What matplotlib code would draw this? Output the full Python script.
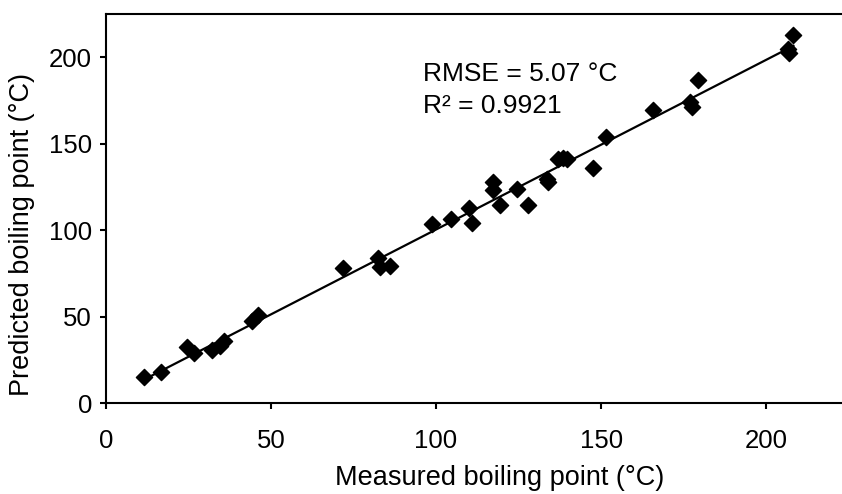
import numpy as np
import matplotlib
matplotlib.use("Agg")
import matplotlib.pyplot as plt

measured = [11.5, 16.6, 24.6, 26.7, 32.0, 34.5, 35.8, 44.1, 46.2, 71.7,
            82.5, 83.0, 85.9, 98.7, 104.4, 110.1, 110.8, 117.2, 117.4, 119.4,
            124.6, 127.8, 133.5, 134.0, 136.8, 138.5, 139.6, 147.7, 151.5,
            165.7, 176.8, 177.5, 179.5, 206.5, 206.8, 208.3]
predicted = [14.9, 17.7, 32.5, 28.7, 30.6, 33.2, 35.6, 47.6, 50.9, 77.9,
             83.6, 78.8, 79.2, 103.3, 106.2, 112.5, 104.4, 127.6, 123.1, 114.8,
             123.5, 114.8, 129.5, 127.6, 140.9, 141.8, 141.4, 135.7, 153.9,
             169.7, 174.2, 171.3, 186.7, 205.0, 202.5, 212.7]
x_ticks = [0, 50, 100, 150, 200]
y_ticks = [0, 50, 100, 150, 200]
annot_lines = ["RMSE = 5.07 °C", "R² = 0.9921"]

plt.rcParams['font.family'] = ['Liberation Sans', 'DejaVu Sans']

W, H = 842, 494
fig = plt.figure(figsize=(W / 100, H / 100), dpi=100)
ax = fig.add_axes([106 / W, 1 - 403 / H, (W - 106) / W, (403 - 14) / H])

x = np.array(measured)
y = np.array(predicted)
m, b = np.polyfit(x, y, 1)
xl = np.array([x.min(), x.max()])
ax.plot(xl, m * xl + b, color='black', lw=1.6, zorder=2)
ax.scatter(x, y, marker='D', s=68, color='black', zorder=3)

ax.set_xlim(0, 223)
ax.set_ylim(0, 225)
ax.set_xticks(x_ticks)
ax.set_yticks(y_ticks)
for side in ['left', 'bottom', 'top']:
    ax.spines[side].set_linewidth(1.5)
    ax.spines[side].set_color('black')
ax.spines['right'].set_visible(False)
ax.tick_params(axis='both', direction='out', length=4, width=1.5, labelsize=18.5)
ax.tick_params(axis='x', pad=15)
ax.tick_params(axis='y', pad=6)

ax.set_xlabel("Measured boiling point (°C)", fontsize=19.5)
ax.set_ylabel("Predicted boiling point (°C)", fontsize=19.5)
ax.xaxis.set_label_coords((500 - 106) / (W - 106), -(478 - 403) / (403 - 14), transform=ax.transAxes)
ax.xaxis.label.set_va('center')
ax.yaxis.set_label_coords(-(106 - 22) / (W - 106), (403 - 234) / (403 - 14), transform=ax.transAxes)
ax.yaxis.label.set_va('center')

ax.text(96, 197, annot_lines[0], fontsize=19, va='top', ha='left')
ax.text(96, 179, annot_lines[1], fontsize=19, va='top', ha='left')

fig.savefig("out.png", dpi=100)
